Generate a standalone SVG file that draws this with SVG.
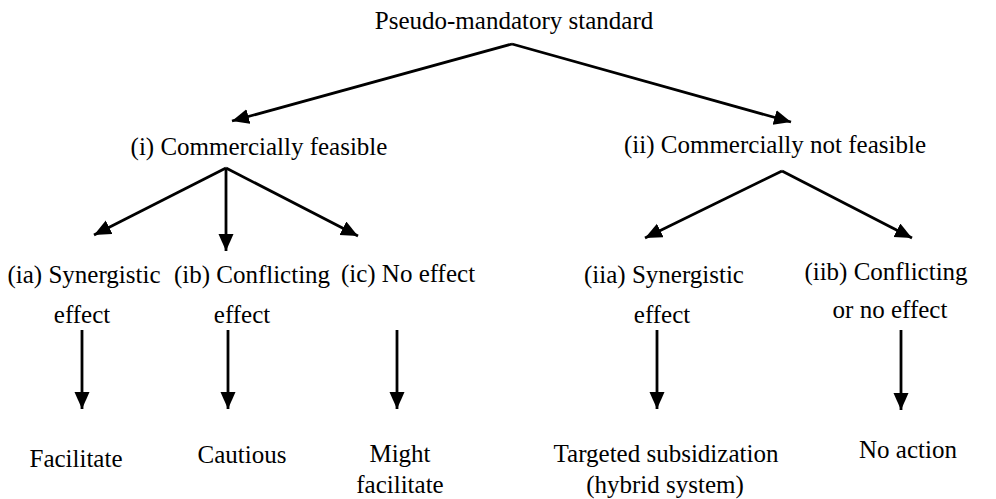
<svg xmlns="http://www.w3.org/2000/svg" width="996" height="499" viewBox="0 0 996 499">
<defs>
<marker id="ah" markerUnits="userSpaceOnUse" markerWidth="18" markerHeight="16" refX="17" refY="7.5" orient="auto">
<path d="M0,0 L17,7.5 L0,15 z" fill="#000"/>
</marker>
<style>
text{font-family:"Liberation Serif","Times New Roman",serif;font-size:25px;fill:#000;text-anchor:middle}
.c line{stroke:#000;stroke-width:2.8;marker-end:url(#ah)}
</style>
</defs>
<rect width="996" height="499" fill="#fff"/>
<g class="c" id="connectors">
<line x1="512" y1="44" x2="232" y2="121"/>
<line x1="512" y1="44" x2="791" y2="122"/>
<line x1="226" y1="168" x2="94" y2="235"/>
<line x1="226" y1="168" x2="226" y2="251"/>
<line x1="226" y1="168" x2="358" y2="236"/>
<line x1="782" y1="171" x2="645" y2="238"/>
<line x1="782" y1="171" x2="912" y2="238"/>
<line x1="82" y1="330" x2="82" y2="409"/>
<line x1="228" y1="330" x2="228" y2="409"/>
<line x1="397" y1="330" x2="397" y2="409"/>
<line x1="657" y1="330" x2="657" y2="409"/>
<line x1="901" y1="330" x2="901" y2="410"/>
</g>
<g id="root"><text x="514" y="29">Pseudo-mandatory standard</text></g>
<g id="i"><text x="259" y="155">(i) Commercially feasible</text></g>
<g id="ii"><text x="775" y="153">(ii) Commercially not feasible</text></g>
<g id="ia"><text x="84" y="283">(ia) Synergistic</text><text x="82" y="323">effect</text></g>
<g id="ib"><text x="252" y="283">(ib) Conflicting</text><text x="242" y="323">effect</text></g>
<g id="ic"><text x="408" y="282">(ic) No effect</text></g>
<g id="iia"><text x="664" y="283">(iia) Synergistic</text><text x="662" y="323">effect</text></g>
<g id="iib"><text x="886" y="280">(iib) Conflicting</text><text x="890" y="318">or no effect</text></g>
<g id="facilitate"><text x="76" y="467">Facilitate</text></g>
<g id="cautious"><text x="242" y="463">Cautious</text></g>
<g id="might"><text x="400" y="462">Might</text><text x="400" y="493">facilitate</text></g>
<g id="targeted"><text x="666" y="462">Targeted subsidization</text><text x="665" y="493">(hybrid system)</text></g>
<g id="noaction"><text x="908" y="458">No action</text></g>
</svg>
